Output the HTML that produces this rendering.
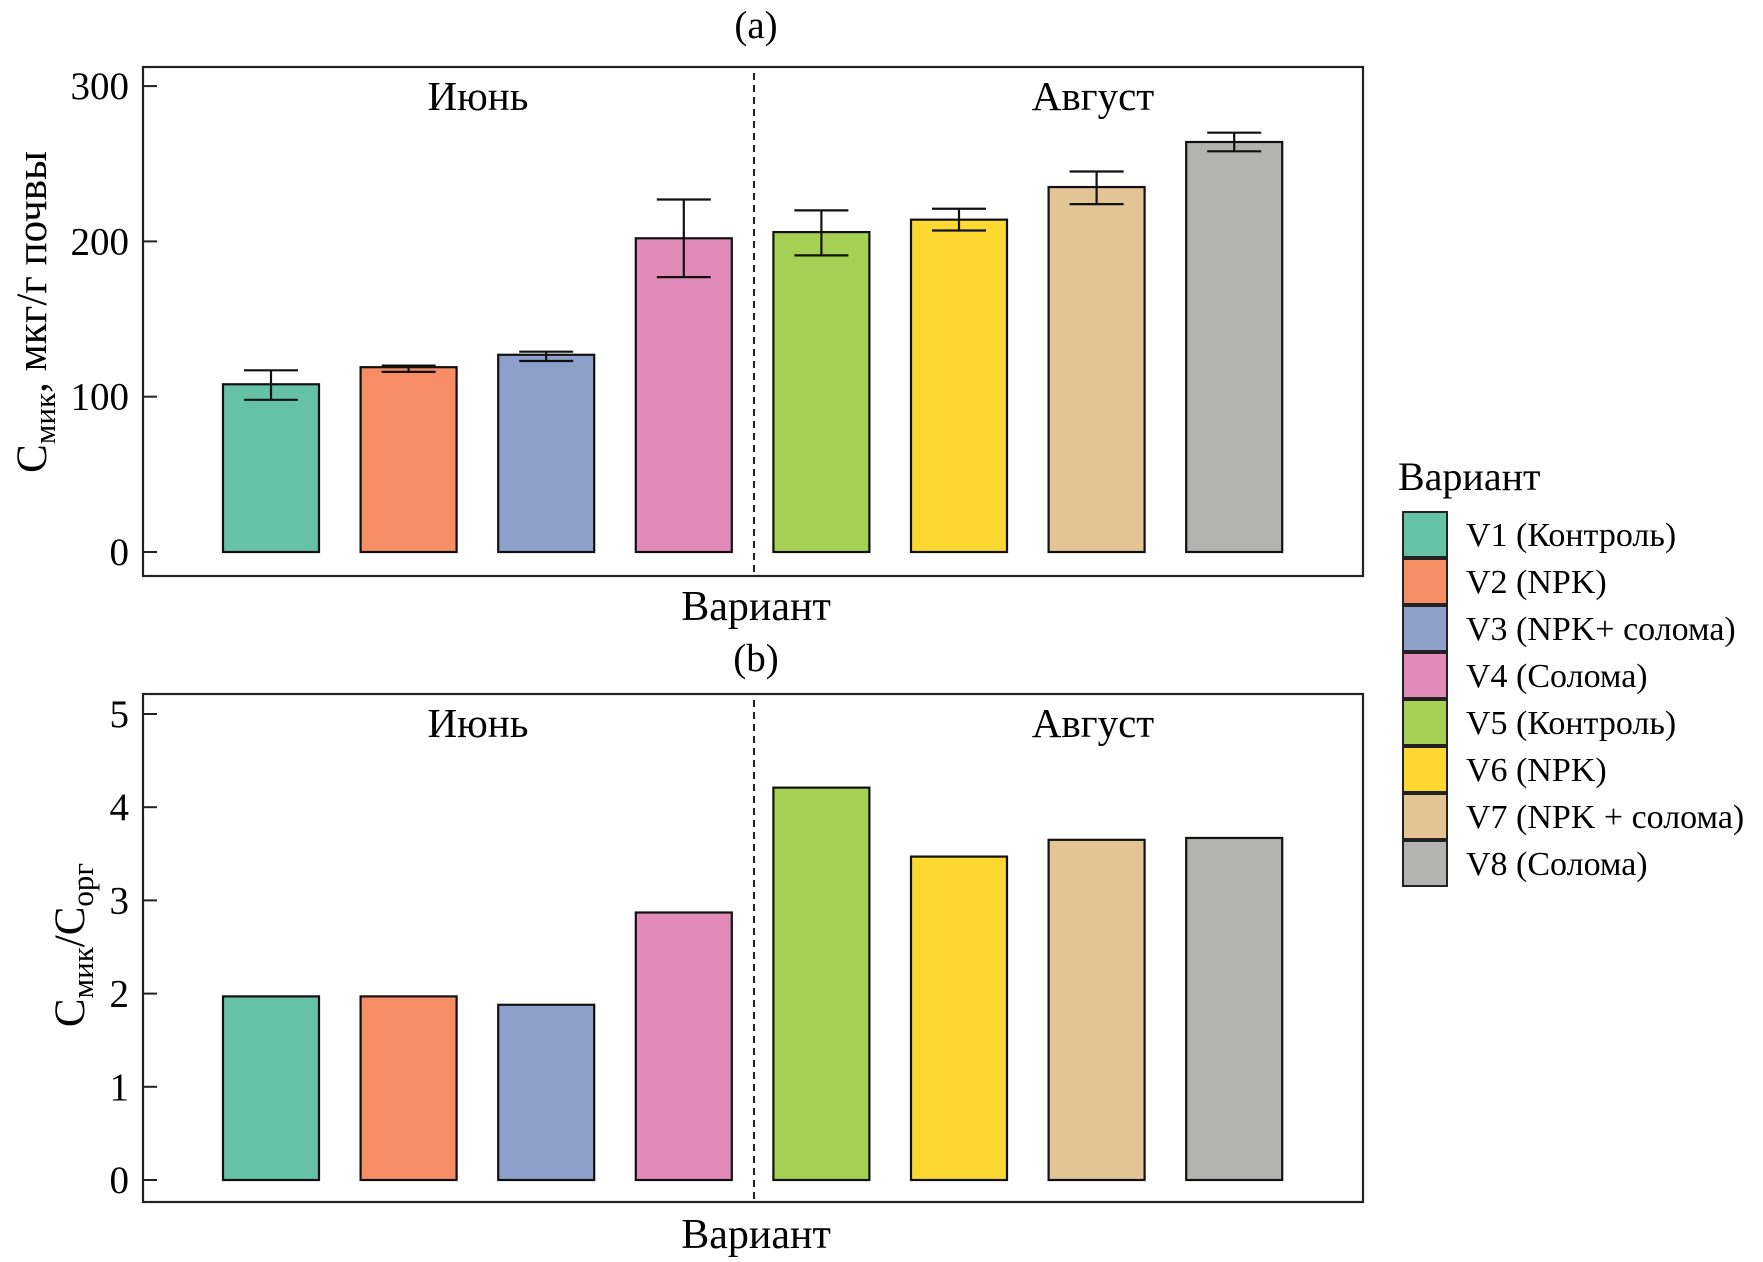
<!DOCTYPE html>
<html><head><meta charset="utf-8"><style>
body{margin:0;background:#fff}
svg{display:block;font-family:"Liberation Serif","DejaVu Serif",serif}
</style></head><body>
<svg id="chart" width="1763" height="1262" viewBox="0 0 1763 1262">
<g id="root"></g>
</svg>
<script>
const categories=["V1 (Контроль)","V2 (NPK)","V3 (NPK+ солома)","V4 (Солома)","V5 (Контроль)","V6 (NPK)","V7 (NPK + солома)","V8 (Солома)"];
const colors=["#66c2a5","#f68d65","#8da0cb","#e38bb8","#a6d054","#fcd830","#e3c494","#b3b4b2"];
const cmicValues=[108,119,127,202,206,214,235,264];
const cmicErrLow=[98,116,123,177,191,207,224,258];
const cmicErrHigh=[117,120,129,227,220,221,245,270];
const ratioValues=[1.97,1.97,1.88,2.87,4.21,3.47,3.65,3.67];
const ticksA=[0,100,200,300];
const ticksB=[0,1,2,3,4,5];

const NS="http://www.w3.org/2000/svg";
const root=document.getElementById('root');
function el(tag,attrs,parent,text){const e=document.createElementNS(NS,tag);for(const k in attrs)e.setAttribute(k,attrs[k]);if(text!==undefined)e.textContent=text;(parent||root).appendChild(e);return e;}

const frameL=143,frameR=1363;
const barX=i=>223+137.6*i, barW=96;
function panel(name,top,bottom,yAt,ticks,values,lo,hi,letter,letterY,xlabY,ylab){
  const g=el('g',{});
  
  
  const fr=el('rect',{x:frameL,y:top,width:frameR-frameL,height:bottom-top,fill:'none',stroke:'#222','stroke-width':2.2},g);
  
  
  ticks.forEach(t=>{
    const y=yAt(t);
    const tk=el('line',{x1:frameL,x2:frameL+14,y1:y,y2:y,stroke:'#222','stroke-width':2},g);
    
    
    const tl=el('text',{x:129,y:y+13,'text-anchor':'end','font-size':39},g,String(t));
    
    
  });
  const dl=el('line',{x1:754,x2:754,y1:top+6,y2:bottom,stroke:'#222','stroke-width':2,'stroke-dasharray':'7,5'},g);
  
  
  values.forEach((v,i)=>{
    const y=yAt(v),y0=yAt(0);
    const b=el('rect',{x:barX(i),y:y,width:barW,height:y0-y,fill:colors[i],stroke:'#111','stroke-width':2.2},g);
    
    
    if(lo){
      const cx=barX(i)+barW/2;
      const eg=el('g',{stroke:'#111','stroke-width':2.2},g);
      
      
      el('line',{x1:cx,x2:cx,y1:yAt(lo[i]),y2:yAt(hi[i])},eg);
      el('line',{x1:cx-27,x2:cx+27,y1:yAt(lo[i]),y2:yAt(lo[i])},eg);
      el('line',{x1:cx-27,x2:cx+27,y1:yAt(hi[i]),y2:yAt(hi[i])},eg);
    }
  });
  const m1=el('text',{x:478,y:top+43,'text-anchor':'middle','font-size':41},g,'Июнь');
  
  
  const m2=el('text',{x:1093,y:top+43,'text-anchor':'middle','font-size':41},g,'Август');
  
  
  const lt=el('text',{x:756,y:letterY,'text-anchor':'middle','font-size':39},g,letter);
  
  
  const xl=el('text',{x:756,y:xlabY,'text-anchor':'middle','font-size':42},g,'Вариант');
  
  
  ylab(g);
}
const yA=v=>552-v*1.553;
panel('panel-a',67,576,yA,ticksA,cmicValues,cmicErrLow,cmicErrHigh,'(a)',38,620,g=>{
  const t=el('text',{transform:'translate(46,312) rotate(-90)','text-anchor':'middle','font-size':43},g);
  
  
  t.innerHTML='C<tspan font-size="31" dy="9">мик</tspan><tspan dy="-9">, мкг/г почвы</tspan>';
});
const yB=v=>1180-v*93.2;
panel('panel-b',694,1202,yB,ticksB,ratioValues,null,null,'(b)',671,1248,g=>{
  const t=el('text',{transform:'translate(84,945) rotate(-90)','text-anchor':'middle','font-size':43},g);
  
  
  t.innerHTML='C<tspan font-size="31" dy="9">мик</tspan><tspan dy="-9">/C</tspan><tspan font-size="31" dy="9">орг</tspan>';
});
const lg=el('g',{});


const lt=el('text',{x:1398,y:490,'font-size':40},lg,'Вариант');


categories.forEach((c,i)=>{
  const y=512+i*47;
  const e=el('g',{},lg);
  
  
  el('rect',{x:1403,y:y,width:44,height:45,fill:colors[i],stroke:'#222','stroke-width':2},e);
  el('text',{x:1466,y:y+34,'font-size':34},e,c);
});
</script>
</body></html>
